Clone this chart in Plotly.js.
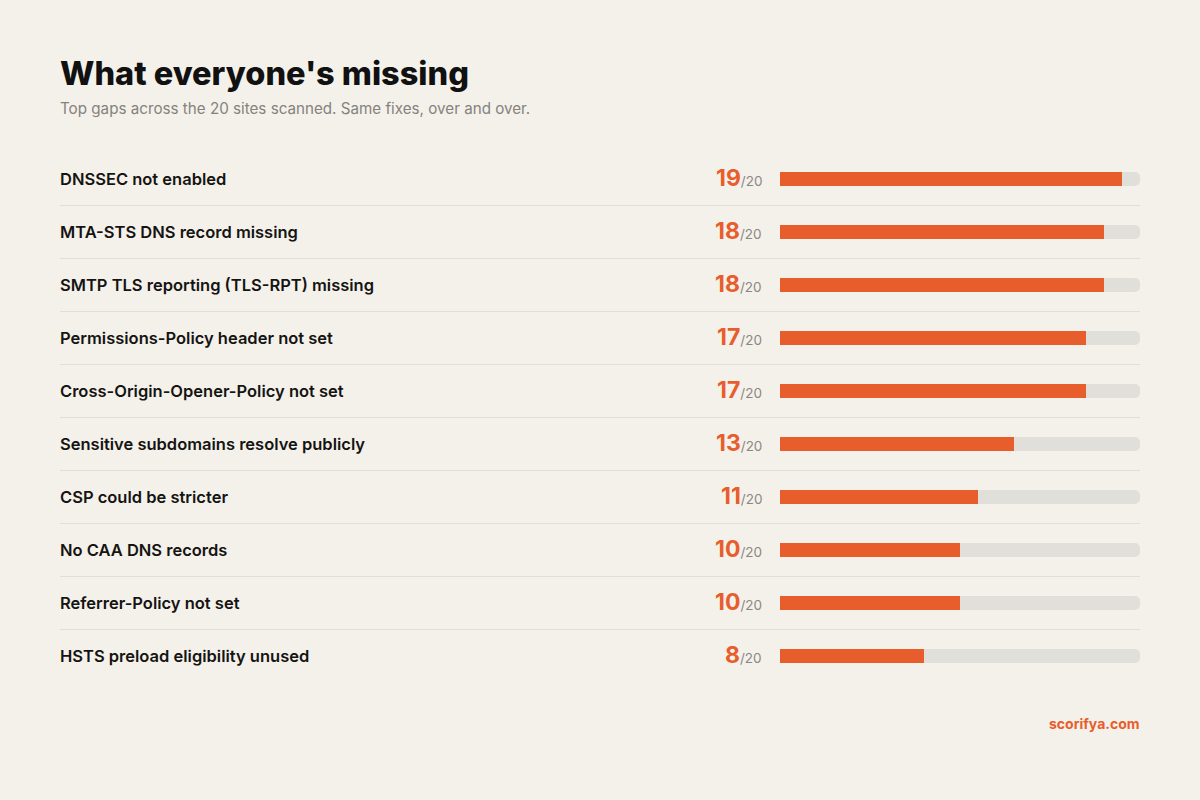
<!DOCTYPE html>
<html>
<head>
<meta charset="utf-8">
<script src="https://cdn.plot.ly/plotly-3.0.1.min.js"></script>
<style>
  html, body { margin: 0; padding: 0; background: #F4F1EB; }
  #chart { width: 1200px; height: 800px; }
</style>
</head>
<body>
<div id="chart"></div>
<script>
// Most common gaps found across the scanned sites
const categories = [
  "DNSSEC not enabled",
  "MTA-STS DNS record missing",
  "SMTP TLS reporting (TLS-RPT) missing",
  "Permissions-Policy header not set",
  "Cross-Origin-Opener-Policy not set",
  "Sensitive subdomains resolve publicly",
  "CSP could be stricter",
  "No CAA DNS records",
  "Referrer-Policy not set",
  "HSTS preload eligibility unused"
];
const counts = [19, 18, 18, 17, 17, 13, 11, 10, 10, 8];
const totalSites = 20;

const W = 1200, H = 800;
const ORANGE = "#E85D2C";
const TRACK = "#E1DFDA";
const BG = "#F4F1EB";
const FONT = "Inter, 'Noto Sans', sans-serif";

// Row geometry (pixels)
const firstRowY = 179, rowStep = 53, barPx = 14;
const barLeft = 780, barRight = 1140;

const n = categories.length;
const yTop = -firstRowY / rowStep;
const yBottom = (H - firstRowY) / rowStep;

const track = {
  type: "bar", orientation: "h",
  y: categories, x: categories.map(() => totalSites),
  width: barPx / rowStep,
  marker: { color: TRACK, cornerradius: "40%" },
  hoverinfo: "skip", showlegend: false
};
const bars = {
  type: "bar", orientation: "h",
  y: categories, x: counts,
  width: barPx / rowStep,
  marker: { color: ORANGE, cornerradius: "40%" },
  hovertemplate: "%{y}: %{x}/" + totalSites + "<extra></extra>",
  showlegend: false
};

const annotations = [];
categories.forEach((c, i) => {
  annotations.push({
    xref: "paper", yref: "y", x: 60 / W, y: c, xshift: -2,
    xanchor: "left", yanchor: "middle", showarrow: false,
    text: c,
    font: { family: FONT, size: 16.5, weight: 600, color: "#151412" }
  });
  annotations.push({
    xref: "paper", yref: "y", x: 762 / W, y: c, xshift: 2,
    xanchor: "right", yanchor: "middle", showarrow: false, yshift: 1,
    text: "<b>" + counts[i] + "</b><span style='font-size:13.5px;color:#8A8783;font-weight:400'>/" + totalSites + "</span>",
    font: { family: FONT, size: 23, color: ORANGE }
  });
});

// Title, subtitle and footer
annotations.push({
  xref: "paper", yref: "paper", x: 60 / W, y: 1 - 73 / H, xshift: -2,
  xanchor: "left", yanchor: "middle", showarrow: false,
  text: "What everyone's missing",
  font: { family: FONT, size: 32.5, weight: 800, color: "#111111" }
});
annotations.push({
  xref: "paper", yref: "paper", x: 60 / W, y: 1 - 108 / H, xshift: -2,
  xanchor: "left", yanchor: "middle", showarrow: false,
  text: "Top gaps across the 20 sites scanned. Same fixes, over and over.",
  font: { family: FONT, size: 15.2, color: "#85827D" }
});
annotations.push({
  xref: "paper", yref: "paper", x: 1140 / W, y: 1 - 723 / H, xshift: 2,
  xanchor: "right", yanchor: "middle", showarrow: false,
  text: "<b>scorifya.com</b>",
  font: { family: FONT, size: 14, color: ORANGE }
});

// Thin separators between rows
const shapes = [];
for (let i = 0; i < n - 1; i++) {
  shapes.push({
    type: "line", xref: "paper", yref: "y",
    x0: 60 / W, x1: 1140 / W, y0: i + 0.5, y1: i + 0.5,
    line: { color: "#E2DED7", width: 1 }, layer: "below"
  });
}

const layout = {
  width: W, height: H,
  margin: { l: 0, r: 0, t: 0, b: 0 },
  paper_bgcolor: BG, plot_bgcolor: "rgba(0,0,0,0)",
  barmode: "overlay",
  xaxis: {
    domain: [barLeft / W, barRight / W],
    range: [0, totalSites], visible: false, fixedrange: true
  },
  yaxis: {
    type: "category", categoryorder: "array", categoryarray: categories,
    range: [yBottom, yTop], visible: false, fixedrange: true
  },
  annotations: annotations,
  shapes: shapes,
  font: { family: FONT }
};

Plotly.newPlot("chart", [track, bars], layout, { displayModeBar: false, staticPlot: true });
</script>
</body>
</html>
